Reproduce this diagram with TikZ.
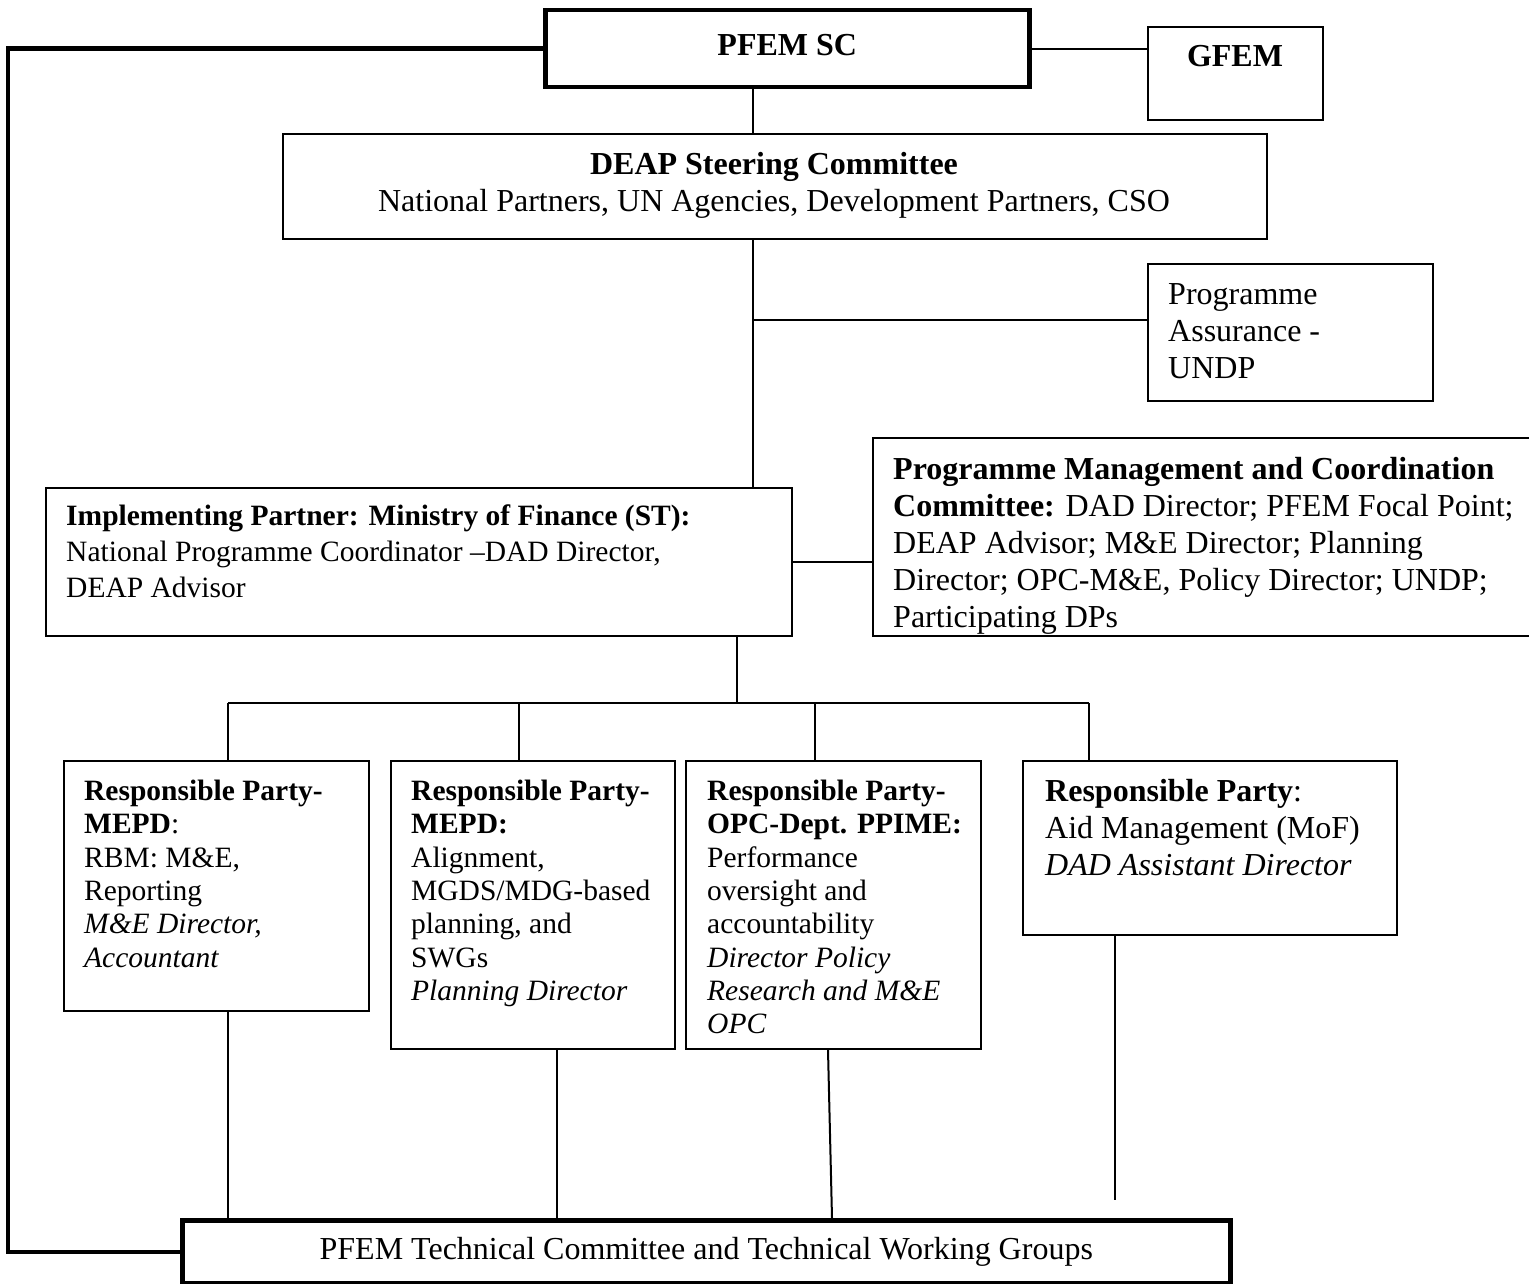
\documentclass[tikz,border=0pt]{standalone}
\usepackage{fontspec}
\setmainfont{Liberation Serif}
\usepackage{tikz}
\usetikzlibrary{calc}

\newcommand\mainsz{\fontsize{32}{37}\selectfont}
\newcommand\smallsz{\fontsize{29.5}{33.3}\selectfont}
\newcommand\midsz{\fontsize{29.5}{35.7}\selectfont}

\begin{document}
\begin{tikzpicture}[x=1pt, y=-1pt,
    box/.style={rectangle, draw, line width=2pt, anchor=north west, inner sep=0pt},
    heavybox/.style={box, line width=4.5pt},
    txt/.style={anchor=north west, inner sep=0pt, align=left, font=\mainsz},
    smalltxt/.style={txt, font=\smallsz},
    link/.style={draw, line width=2pt},
    rail/.style={draw, line width=4.5pt}]
    \useasboundingbox (0,0) rectangle (1529,1284);

    % Nodes
    \node [heavybox, minimum width=484pt, minimum height=77pt, font=\mainsz\bfseries] (sc) at (543,8) {\raisebox{8pt}{PFEM SC}};
    \node [box, minimum width=175pt, minimum height=93pt] (gfem) at (1147,26) {};
    \node [txt, anchor=north, font=\mainsz\bfseries] (gfemt) at (1235,45) {GFEM};

    \node [box, minimum width=984pt, minimum height=105pt] (deap) at (282,133) {};
    \node [txt, anchor=north, align=center] (deapt) at (774,152) {\textbf{DEAP Steering Committee}\\National Partners, UN Agencies, Development Partners, CSO};

    \node [box, minimum width=285pt, minimum height=137pt] (pa) at (1147,263) {};
    \node [txt] (pat) at (1168,283) {Programme\\Assurance -\\UNDP};

    \node [box, minimum width=746pt, minimum height=148pt] (ip) at (45,487) {};
    \node [txt, font=\midsz] (ipt) at (66,505) {\textbf{Implementing Partner: Ministry of Finance (ST):}\\National Programme Coordinator –DAD Director,\\DEAP Advisor};

    \node [box, minimum width=670pt, minimum height=198pt] (pmcc) at (872,437) {};
    \node [txt] (pmcct) at (893,457) {\textbf{Programme Management and Coordination}\\\textbf{Committee:} DAD Director; PFEM Focal Point;\\DEAP Advisor; M\&E Director; Planning\\Director; OPC-M\&E, Policy Director; UNDP;\\Participating DPs};

    \node [box, minimum width=305pt, minimum height=250pt] (rp1) at (63,760) {};
    \node [smalltxt] (rp1t) at (84,780) {\textbf{Responsible Party-}\\\textbf{MEPD}:\\RBM: M\&E,\\Reporting\\\textit{M\&E Director,}\\\textit{Accountant}};

    \node [box, minimum width=284pt, minimum height=288pt] (rp2) at (390,760) {};
    \node [smalltxt] (rp2t) at (411,780) {\textbf{Responsible Party-}\\\textbf{MEPD:}\\Alignment,\\MGDS/MDG-based\\planning, and\\SWGs\\\textit{Planning Director}};

    \node [box, minimum width=295pt, minimum height=288pt] (rp3) at (685,760) {};
    \node [smalltxt] (rp3t) at (707,780) {\textbf{Responsible Party-}\\\textbf{OPC-Dept. PPIME:}\\Performance\\oversight and\\accountability\\\textit{Director Policy}\\\textit{Research and M\&E}\\\textit{OPC}};

    \node [box, minimum width=374pt, minimum height=174pt] (rp4) at (1022,760) {};
    \node [txt] (rp4t) at (1045,779) {\textbf{Responsible Party}:\\Aid Management (MoF)\\\textit{DAD Assistant Director}};

    \node [heavybox, minimum width=1048pt, minimum height=63pt, font=\mainsz] (tc) at (180,1218) {PFEM Technical Committee and Technical Working Groups};

    % Coordinates
    \coordinate (spine) at (753,0);
    \coordinate (lrail) at (8,0);
    \coordinate (hub) at (737,703);
    \coordinate (d1) at (228,703);
    \coordinate (d2) at (519,703);
    \coordinate (d3) at (815,703);
    \coordinate (d4) at (1089,703);
    \coordinate (e2) at (557,0);
    \coordinate (e3) at (828,0);
    \coordinate (e4) at (1115,0);
    \coordinate (e4end) at (1115,1200);

    % Lines
    \path [rail] (sc.west) -| (lrail |- tc.west) -- (tc.west);
    \path [link] (sc.east) -- (sc.east -| gfem.west);
    \path [link] (spine |- sc.south) -- (spine |- deap.north);
    \path [link] (spine |- deap.south) -- (spine |- ip.north);
    \path [link] (spine |- pa.175) -- (pa.175);
    \path [link] (ip.east) -- (ip.east -| pmcc.west);
    \path [link] (hub |- ip.south) -- (hub);
    \path [link] (d1) -- (d4);
    \path [link] (d1) -- (d1 |- rp1.north);
    \path [link] (d2) -- (d2 |- rp2.north);
    \path [link] (d3) -- (d3 |- rp3.north);
    \path [link] (d4) -- (d4 |- rp4.north);
    \path [link] (d1 |- rp1.south) -- (d1 |- tc.north);
    \path [link] (e2 |- rp2.south) -- (e2 |- tc.north);
    \path [link] (e3 |- rp3.south) -- ($(e3 |- tc.north)+(4,0)$);
    \path [link] (e4 |- rp4.south) -- (e4end);
\end{tikzpicture}
\end{document}
